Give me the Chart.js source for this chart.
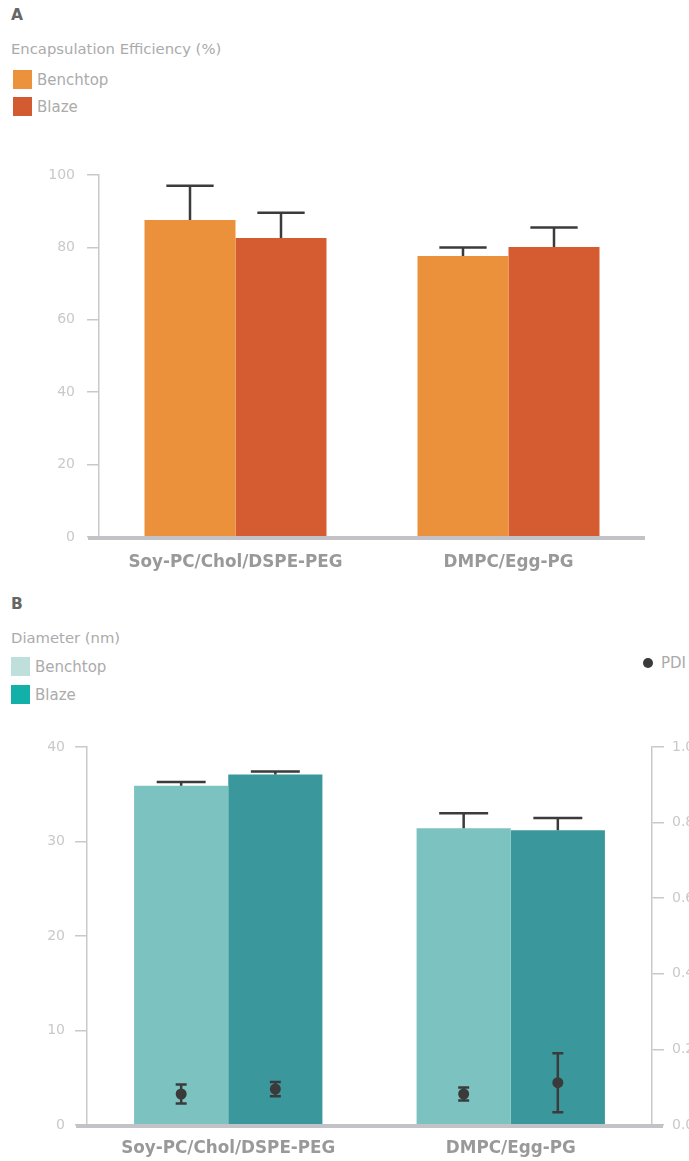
<!DOCTYPE html>
<html lang="en">
<head>
    <meta charset="UTF-8">
    <title>Encapsulation Efficiency and Diameter</title>
    <style>
        body { margin: 0; width: 689px; height: 1161px; position: relative; overflow: hidden; background: #fff; font-family: "DejaVu Sans", sans-serif; }
        .abs { position: absolute; }
        .panel { font-weight: bold; font-size: 15.5px; color: #666; }
        .title { font-size: 14.8px; color: #ababab; }
        .leg { font-size: 15px; color: #ababab; display: flex; align-items: center; }
        .leg span.sw { display: inline-block; width: 19px; height: 19px; margin-right: 5px; }
        .dot { display: inline-block; width: 10px; height: 10px; border-radius: 50%; background: #3a3a3a; margin-right: 8px; }
    </style>
</head>
<body>
    <div class="abs panel" style="left:11px; top:6px;">A</div>
    <div class="abs title" style="left:11px; top:40px;">Encapsulation Efficiency (%)</div>
    <div class="abs leg" style="left:13px; top:70px;"><span class="sw" style="background:#ec923c"></span>Benchtop</div>
    <div class="abs leg" style="left:13px; top:97px;"><span class="sw" style="background:#d35b31"></span>Blaze</div>

    <div class="abs panel" style="left:11px; top:595px;">B</div>
    <div class="abs title" style="left:11px; top:629px;">Diameter (nm)</div>
    <div class="abs leg" style="left:11px; top:657px;"><span class="sw" style="background:#bfdfdd"></span>Benchtop</div>
    <div class="abs leg" style="left:11px; top:685px;"><span class="sw" style="background:#12b0a8"></span>Blaze</div>
    <div class="abs leg" style="left:643px; top:654px;"><span class="dot"></span>PDI</div>

    <div class="abs" style="left:0; top:150px; width:689px; height:430px;"><canvas id="chartA"></canvas></div>
    <div class="abs" style="left:0; top:720px; width:689px; height:441px;"><canvas id="chartB"></canvas></div>

    <script src="https://cdn.jsdelivr.net/npm/chart.js"></script>
    <script>
        const categories = ['Soy-PC/Chol/DSPE-PEG', 'DMPC/Egg-PG'];

        // panel A: encapsulation efficiency (%)
        const effBenchtop = [87.6, 77.6];
        const effBenchtopErr = [9.4, 2.4];
        const effBlaze = [82.6, 80.1];
        const effBlazeErr = [7.0, 5.4];
        const effTicks = [0, 20, 40, 60, 80, 100];

        // panel B: diameter (nm) and PDI
        const diaBenchtop = [35.9, 31.4];
        const diaBenchtopErr = [0.4, 1.6];
        const diaBlaze = [37.1, 31.2];
        const diaBlazeErr = [0.3, 1.3];
        const diaTicks = [0, 10, 20, 30, 40];
        const pdiBenchtop = [0.082, 0.082];
        const pdiBenchtopErr = [0.025, 0.017];
        const pdiBlaze = [0.095, 0.112];
        const pdiBlazeErr = [0.019, 0.078];
        const pdiTicks = [0, 0.2, 0.4, 0.6, 0.8, 1.0];

        const catPct = 2 / 3;
        const axisGray = '#c9c9c9';
        const tickFont = { family: 'DejaVu Sans', size: 14 };
        const catFont = { family: 'DejaVu Sans', size: 16.8, weight: 'bold' };

        // draw error whiskers from dataset.errors
        const errorBars = {
            id: 'errorBars',
            afterDatasetsDraw(chart) {
                const ctx = chart.ctx;
                ctx.save();
                ctx.strokeStyle = '#3b3b3b';
                ctx.lineWidth = 2.5;
                chart.data.datasets.forEach((ds, di) => {
                    if (!ds.errors) return;
                    const meta = chart.getDatasetMeta(di);
                    const ys = chart.scales[meta.yAxisID];
                    const isDot = ds.type === 'scatter';
                    meta.data.forEach((el, i) => {
                        const v = isDot ? ds.data[i].y : ds.data[i];
                        const e = ds.errors[i];
                        const top = ys.getPixelForValue(v + e);
                        const bot = isDot ? ys.getPixelForValue(v - e) : el.y;
                        const half = isDot ? 5.5 : el.width * 0.26;
                        ctx.beginPath();
                        ctx.moveTo(el.x, bot);
                        ctx.lineTo(el.x, top);
                        ctx.moveTo(el.x - half, top);
                        ctx.lineTo(el.x + half, top);
                        if (isDot) {
                            ctx.moveTo(el.x - half, bot);
                            ctx.lineTo(el.x + half, bot);
                        }
                        ctx.stroke();
                    });
                });
                ctx.restore();
            }
        };

        // thick grey baseline under the bars
        const baseline = {
            id: 'baseline',
            afterDatasetsDraw(chart) {
                const ctx = chart.ctx;
                const y = chart.scales.y.getPixelForValue(0);
                const a = chart.chartArea;
                const extra = chart.scales.y1 ? 11 : 0;
                ctx.save();
                ctx.strokeStyle = '#c3c3c7';
                ctx.lineWidth = 4;
                ctx.beginPath();
                ctx.moveTo(a.left - 11, y + 1);
                ctx.lineTo(a.right + extra, y + 1);
                ctx.stroke();
                ctx.restore();
            }
        };

        function valueAxis(ticks, pos, width, pad) {
            return {
                position: pos,
                min: ticks[0],
                max: ticks[ticks.length - 1],
                afterFit: s => { s.width = width; },
                afterBuildTicks: s => { s.ticks = ticks.map(v => ({ value: v })); },
                border: { color: axisGray, width: 1.5 },
                grid: { drawOnChartArea: false, drawTicks: true, tickLength: 12, color: axisGray, lineWidth: 1.5 },
                ticks: { color: '#c9c9c9', font: tickFont, padding: pad, callback: v => pos === 'right' ? v.toFixed(1) : v }
            };
        }

        function catAxis(height, pad) {
            return {
                afterFit: s => { s.height = height; },
                border: { display: false },
                grid: { display: false, drawTicks: false },
                ticks: { color: '#999', font: catFont, padding: pad }
            };
        }

        new Chart(document.getElementById('chartA'), {
            type: 'bar',
            data: {
                labels: categories,
                datasets: [
                    { label: 'Benchtop', data: effBenchtop, errors: effBenchtopErr, backgroundColor: '#ec913b' },
                    { label: 'Blaze', data: effBlaze, errors: effBlazeErr, backgroundColor: '#d55c31' }
                ]
            },
            options: {
                maintainAspectRatio: false,
                animation: false,
                categoryPercentage: catPct,
                barPercentage: 1,
                layout: { padding: { top: 25, right: 44, left: 0, bottom: 0 } },
                plugins: { legend: { display: false }, tooltip: { enabled: false } },
                scales: {
                    x: catAxis(43, 16),
                    y: valueAxis(effTicks, 'left', 99, 12)
                }
            },
            plugins: [baseline, errorBars]
        });

        // PDI dots sit over the centre of each bar: category index +/- a quarter of the group width
        const benchOff = -catPct / 4;
        const blazeOff = catPct / 4;

        new Chart(document.getElementById('chartB'), {
            type: 'bar',
            data: {
                labels: categories,
                datasets: [
                    { label: 'Benchtop', order: 1, data: diaBenchtop, errors: diaBenchtopErr, backgroundColor: '#7bc2c0' },
                    { label: 'Blaze', order: 1, data: diaBlaze, errors: diaBlazeErr, backgroundColor: '#3a989c' },
                    {
                        type: 'scatter', label: 'PDI Benchtop', order: 0, xAxisID: 'x', yAxisID: 'y1', parsing: false,
                        data: pdiBenchtop.map((v, i) => ({ x: i + benchOff, y: v })), errors: pdiBenchtopErr,
                        pointRadius: 5.5, backgroundColor: '#3a3a3a', borderWidth: 0
                    },
                    {
                        type: 'scatter', label: 'PDI Blaze', order: 0, xAxisID: 'x', yAxisID: 'y1', parsing: false,
                        data: pdiBlaze.map((v, i) => ({ x: i + blazeOff, y: v })), errors: pdiBlazeErr,
                        pointRadius: 5.5, backgroundColor: '#3a3a3a', borderWidth: 0
                    }
                ]
            },
            options: {
                indexAxis: 'x',
                maintainAspectRatio: false,
                animation: false,
                categoryPercentage: catPct,
                barPercentage: 1,
                layout: { padding: { top: 27, right: 0, left: 0, bottom: 0 } },
                plugins: { legend: { display: false }, tooltip: { enabled: false } },
                scales: {
                    x: catAxis(36, 14),
                    y: valueAxis(diaTicks, 'left', 87, 10),
                    y1: valueAxis(pdiTicks, 'right', 37, 8)
                }
            },
            plugins: [baseline, errorBars]
        });
    </script>
</body>
</html>
